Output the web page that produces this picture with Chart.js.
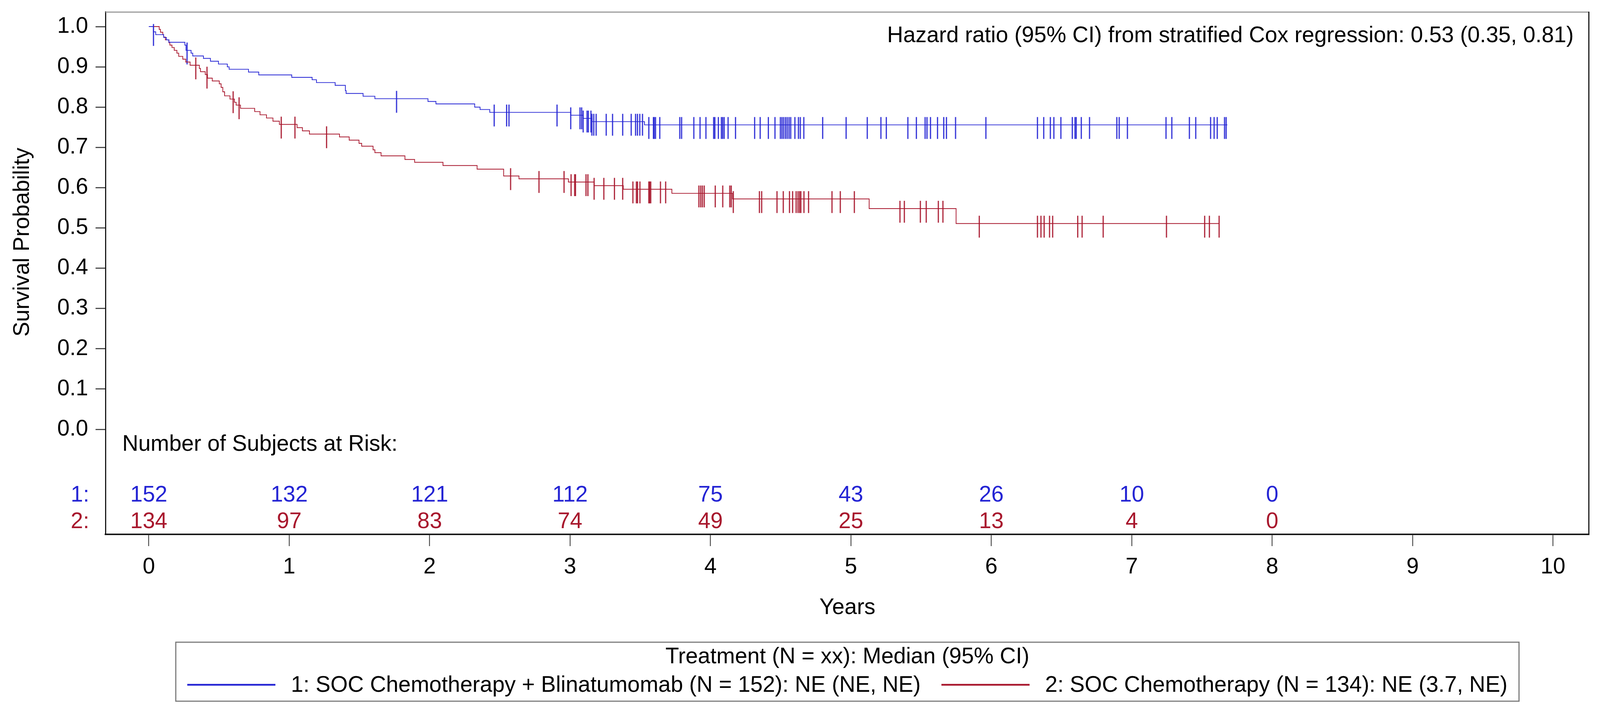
<!DOCTYPE html>
<html>
<head>
<meta charset="utf-8">
<title>Survival Probability</title>
<script src="https://cdn.jsdelivr.net/npm/chart.js@4.4.1/dist/chart.umd.min.js"></script>
<style>
  html, body { margin: 0; padding: 0; background: #fff; overflow: hidden; }
  #km { display: block; }
</style>
</head>
<body>
<canvas id="km"></canvas>
<script>
// axis ticks
const yearTicks = [0, 1, 2, 3, 4, 5, 6, 7, 8, 9, 10];
const probTicks = [0.0, 0.1, 0.2, 0.3, 0.4, 0.5, 0.6, 0.7, 0.8, 0.9, 1.0];

// arm 1: SOC Chemotherapy + Blinatumomab (step times / survival after step)
const blueTimes = [0, 0.033, 0.049, 0.106, 0.125, 0.143, 0.257, 0.265, 0.301, 0.313, 0.389, 0.439,
  0.496, 0.559, 0.572, 0.710, 0.783, 1.018, 1.163, 1.194, 1.327, 1.400, 1.405, 1.526, 1.610,
  1.988, 2.045, 2.321, 2.359, 2.428, 3.005, 3.093, 3.156, 3.530, 7.681];
const blueSurv = [1.0, 0.987, 0.980, 0.973, 0.967, 0.961, 0.954, 0.941, 0.934, 0.927, 0.921, 0.914,
  0.907, 0.900, 0.894, 0.887, 0.880, 0.874, 0.868, 0.861, 0.854, 0.841, 0.834, 0.827, 0.821,
  0.814, 0.808, 0.800, 0.794, 0.787, 0.780, 0.772, 0.764, 0.756, 0.756];
const blueCensor = [0.033, 0.272, 1.765, 2.460, 2.548, 2.565, 2.907, 3.005, 3.070, 3.083, 3.093,
  3.121, 3.131, 3.148, 3.156, 3.169, 3.186, 3.257, 3.303, 3.375, 3.435, 3.467, 3.480, 3.496, 3.515,
  3.561, 3.593, 3.599, 3.609, 3.639, 3.782, 3.794, 3.882, 3.926, 3.968, 4.022, 4.031, 4.056, 4.077,
  4.087, 4.097, 4.125, 4.178, 4.314, 4.354, 4.412, 4.459, 4.497, 4.509, 4.522, 4.534, 4.547, 4.559,
  4.572, 4.601, 4.626, 4.639, 4.664, 4.799, 4.966, 5.117, 5.214, 5.252, 5.406, 5.466, 5.529, 5.542,
  5.567, 5.617, 5.661, 5.680, 5.746, 5.961, 6.328, 6.373, 6.420, 6.445, 6.495, 6.577, 6.596, 6.605,
  6.641, 6.700, 6.894, 6.911, 6.970, 7.244, 7.285, 7.410, 7.456, 7.562, 7.587, 7.609, 7.660, 7.672];

// arm 2: SOC Chemotherapy
const redTimes = [0, 0.074, 0.083, 0.0995, 0.106, 0.118, 0.143, 0.150, 0.165, 0.181, 0.200, 0.213,
  0.242, 0.263, 0.294, 0.360, 0.368, 0.402, 0.418, 0.452, 0.502, 0.515, 0.527, 0.540, 0.578, 0.610,
  0.622, 0.653, 0.754, 0.792, 0.838, 0.884, 0.930, 1.056, 1.094, 1.144, 1.358, 1.427, 1.497, 1.516,
  1.597, 1.610, 1.654, 1.824, 1.893, 2.095, 2.338, 2.527, 2.636, 2.988, 3.171, 3.379, 3.725, 4.157,
  5.130, 5.749, 7.622];
const redSurv = [1.0, 0.993, 0.986, 0.980, 0.974, 0.967, 0.960, 0.954, 0.948, 0.941, 0.934, 0.926,
  0.919, 0.912, 0.904, 0.896, 0.888, 0.881, 0.872, 0.865, 0.858, 0.849, 0.838, 0.828, 0.820, 0.812,
  0.805, 0.797, 0.789, 0.781, 0.773, 0.765, 0.757, 0.749, 0.741, 0.733, 0.726, 0.718, 0.710, 0.703,
  0.694, 0.687, 0.679, 0.670, 0.663, 0.655, 0.646, 0.629, 0.622, 0.614, 0.605, 0.596, 0.586, 0.572,
  0.548, 0.511, 0.511];
const redCensor = [0.335, 0.414, 0.600, 0.643, 0.943, 1.041, 1.266, 2.577, 2.778, 2.957, 3.007,
  3.033, 3.039, 3.114, 3.127, 3.171, 3.240, 3.316, 3.375, 3.448, 3.473, 3.480, 3.498, 3.561, 3.567,
  3.574, 3.643, 3.681, 3.918, 3.930, 3.943, 3.955, 4.034, 4.088, 4.138, 4.148, 4.163, 4.349, 4.364,
  4.474, 4.519, 4.563, 4.585, 4.610, 4.623, 4.635, 4.644, 4.666, 4.698, 4.865, 4.925, 5.025, 5.349,
  5.381, 5.495, 5.537, 5.623, 5.655, 5.914, 6.328, 6.353, 6.376, 6.414, 6.436, 6.615, 6.647, 6.797,
  7.248, 7.519, 7.553, 7.622];

// number of subjects at risk
const riskYears = [0, 1, 2, 3, 4, 5, 6, 7, 8];
const riskBlue = [152, 132, 121, 112, 75, 43, 26, 10, 0];
const riskRed = [134, 97, 83, 74, 49, 25, 13, 4, 0];

const blueLabel = "1: SOC Chemotherapy + Blinatumomab (N = 152): NE (NE, NE)";
const redLabel = "2: SOC Chemotherapy (N = 134): NE (3.7, NE)";
const legendTitle = "Treatment (N = xx): Median (95% CI)";
const hazardText = "Hazard ratio (95% CI) from stratified Cox regression: 0.53 (0.35, 0.81)";

const fontFamily = "'Liberation Sans', Arial, sans-serif";
const blue = "#2424d4";
const red = "#a8172d";

// layout was measured on a 4320 x 1815 page; scale to the real window
const W = window.innerWidth || 4320;
const H = window.innerHeight || 1815;
const sx = W / 4320;
const sy = H / 1815;
const sf = Math.min(sx, sy);
const X = (v) => v * sx;
const Y = (v) => v * sy;

function stepPoints(times, surv) {
  return times.map((t, i) => ({ x: t, y: surv[i] }));
}

function survAt(times, surv, t) {
  let v = surv[0];
  for (let i = 0; i < times.length; i++) {
    if (times[i] <= t + 1e-9) v = surv[i];
  }
  return v;
}

function censorPoints(censor, times, surv) {
  return censor.map((t) => ({ x: t, y: survAt(times, surv, t) }));
}

// vertical censor tick, sits a little below the curve like the SAS symbol
function censorMark(color) {
  const c = document.createElement("canvas");
  const w = Math.max(3, Math.round(X(4)));
  const h = Y(76);
  c.width = w;
  c.height = Math.round(h);
  const g = c.getContext("2d");
  g.fillStyle = color;
  g.fillRect((w - X(3)) / 2, Y(18), X(3), Y(56));
  return c;
}

const textPlugin = {
  id: "kmText",
  afterDraw(chart) {
    const ctx = chart.ctx;
    const xs = chart.scales.x;
    const area = chart.chartArea;
    ctx.save();

    // wall frame: top grey, right black
    ctx.lineWidth = 3 * sf;
    ctx.strokeStyle = "#9a9a9a";
    ctx.beginPath();
    ctx.moveTo(area.left, area.top + 1);
    ctx.lineTo(area.right, area.top + 1);
    ctx.stroke();
    ctx.strokeStyle = "#111";
    ctx.beginPath();
    ctx.moveTo(area.right - 1, area.top);
    ctx.lineTo(area.right - 1, area.bottom);
    ctx.stroke();

    ctx.font = 60 * sf + "px " + fontFamily;
    ctx.textBaseline = "middle";

    ctx.fillStyle = "#000";
    ctx.textAlign = "right";
    ctx.fillText(hazardText, area.right - X(42), Y(92));

    ctx.textAlign = "left";
    ctx.fillText("Number of Subjects at Risk:", area.left + X(45), Y(1138));

    ctx.textAlign = "right";
    ctx.fillStyle = blue;
    ctx.fillText("1:", X(241), Y(1268));
    ctx.fillStyle = red;
    ctx.fillText("2:", X(241), Y(1336));

    ctx.textAlign = "center";
    riskYears.forEach((yr, i) => {
      const px = xs.getPixelForValue(yr);
      ctx.fillStyle = blue;
      ctx.fillText(String(riskBlue[i]), px, Y(1268));
      ctx.fillStyle = red;
      ctx.fillText(String(riskRed[i]), px, Y(1336));
    });

    // axis titles
    ctx.fillStyle = "#000";
    ctx.fillText("Years", (area.left + area.right) / 2, Y(1556));
    ctx.save();
    ctx.translate(X(62), Y(620));
    ctx.rotate(-Math.PI / 2);
    ctx.fillText("Survival Probability", 0, 0);
    ctx.restore();

    // legend box
    const cx = (area.left + area.right) / 2;
    const lineLen = X(238);
    const gapText = X(42);
    const gapItem = X(56);
    const w1 = ctx.measureText(blueLabel).width;
    const w2 = ctx.measureText(redLabel).width;
    const total = lineLen + gapText + w1 + gapItem + lineLen + gapText + w2;
    const x0 = cx - total / 2;
    const top = Y(1644);
    const bottom = Y(1795);
    ctx.strokeStyle = "#777";
    ctx.lineWidth = 3 * sf;
    ctx.strokeRect(x0 - X(31), top, total + X(62), bottom - top);

    ctx.fillStyle = "#000";
    ctx.textAlign = "center";
    ctx.fillText(legendTitle, cx, Y(1682));

    const rowY = Y(1753);
    ctx.lineWidth = 5 * sf;
    ctx.strokeStyle = blue;
    ctx.beginPath();
    ctx.moveTo(x0, rowY);
    ctx.lineTo(x0 + lineLen, rowY);
    ctx.stroke();
    ctx.textAlign = "left";
    ctx.fillStyle = "#000";
    let x = x0 + lineLen + gapText;
    ctx.fillText(blueLabel, x, Y(1755));
    x += w1 + gapItem;
    ctx.strokeStyle = red;
    ctx.beginPath();
    ctx.moveTo(x, rowY);
    ctx.lineTo(x + lineLen, rowY);
    ctx.stroke();
    x += lineLen + gapText;
    ctx.fillText(redLabel, x, Y(1755));

    ctx.restore();
  }
};

const tickFont = { family: fontFamily, size: 60 * sf };

const canvas = document.getElementById("km");
canvas.width = W;
canvas.height = H;

new Chart(canvas, {
  type: "line",
  data: {
    datasets: [
      {
        label: blueLabel,
        data: stepPoints(blueTimes, blueSurv),
        borderColor: blue,
        backgroundColor: blue,
        borderWidth: 2 * sf,
        stepped: "before",
        pointRadius: 0,
        fill: false,
      },
      {
        label: redLabel,
        data: stepPoints(redTimes, redSurv),
        borderColor: red,
        backgroundColor: red,
        borderWidth: 2 * sf,
        stepped: "before",
        pointRadius: 0,
        fill: false,
      },
      {
        label: "censored 1",
        data: censorPoints(blueCensor, blueTimes, blueSurv),
        showLine: false,
        pointStyle: censorMark(blue),
        pointRadius: 28 * sf,
        borderColor: blue,
      },
      {
        label: "censored 2",
        data: censorPoints(redCensor, redTimes, redSurv),
        showLine: false,
        pointStyle: censorMark(red),
        pointRadius: 28 * sf,
        borderColor: red,
      },
    ],
  },
  options: {
    responsive: false,
    animation: false,
    layout: { padding: { top: Y(30), right: X(25), bottom: 0, left: 0 } },
    plugins: {
      legend: { display: false },
      tooltip: { enabled: false },
    },
    scales: {
      x: {
        type: "linear",
        min: -0.308,
        max: 10.258,
        afterBuildTicks: (s) => {
          s.ticks = yearTicks.map((v) => ({ value: v }));
        },
        afterFit: (s) => {
          s.height = Y(447);
          s.paddingLeft = 0;
          s.paddingRight = 0;
        },
        ticks: {
          font: tickFont,
          color: "#000",
          padding: Y(20),
          maxRotation: 0,
          autoSkip: false,
        },
        grid: {
          drawOnChartArea: false,
          drawTicks: true,
          tickLength: Y(30),
          tickWidth: 2 * sf,
          tickColor: "#222",
        },
        border: { display: true, color: "#111", width: 4 * sf },
      },
      y: {
        type: "linear",
        min: -0.2609,
        max: 1.0369,
        afterBuildTicks: (s) => {
          s.ticks = probTicks.map((v) => ({ value: v }));
        },
        afterFit: (s) => {
          s.width = X(285);
          s.paddingTop = 0;
          s.paddingBottom = 0;
        },
        ticks: {
          font: tickFont,
          color: "#000",
          padding: X(20),
          callback: (v) => Number(v).toFixed(1),
        },
        grid: {
          drawOnChartArea: false,
          drawTicks: true,
          tickLength: X(27),
          tickWidth: 3 * sf,
          tickColor: "#444",
        },
        border: { display: true, color: "#111", width: 3 * sf },
      },
    },
  },
  plugins: [textPlugin],
});
</script>
</body>
</html>
